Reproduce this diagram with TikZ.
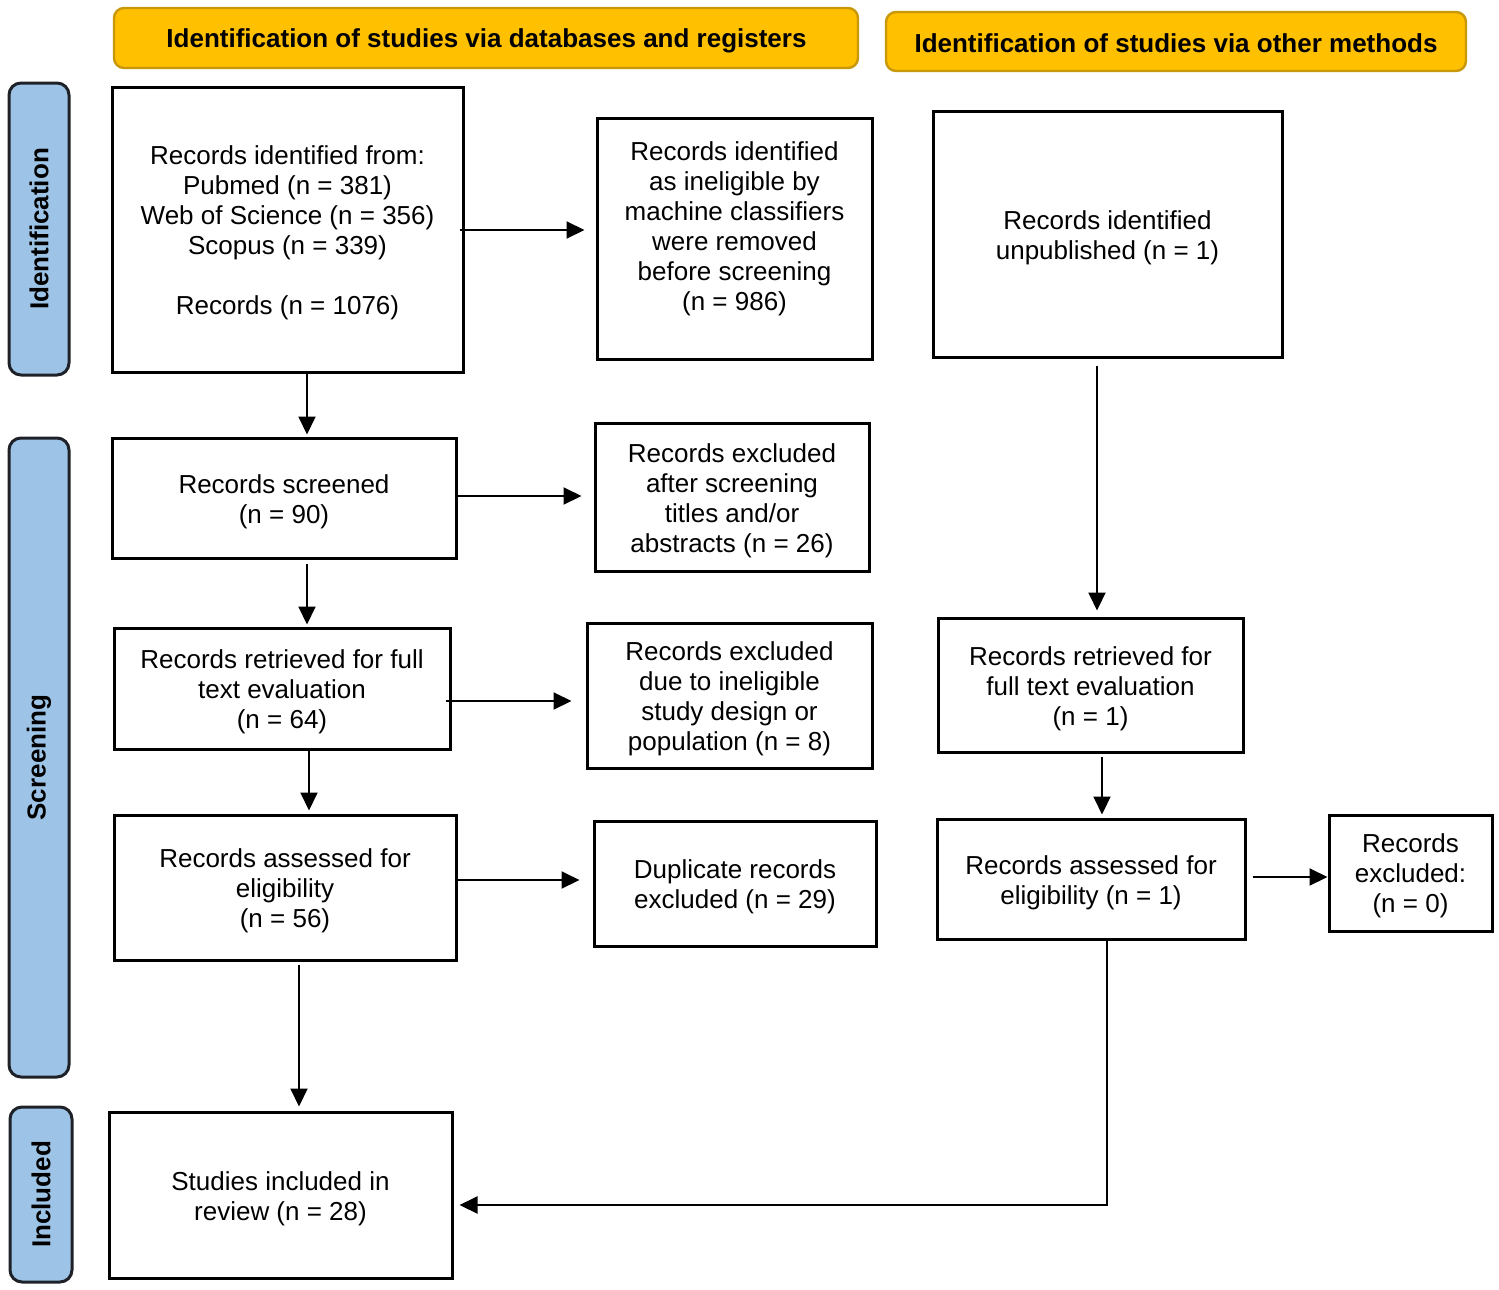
\documentclass[tikz,border=0pt]{standalone}
\usepackage{fontspec}
\setmainfont{Liberation Sans}
\usetikzlibrary{arrows.meta,calc}
\definecolor{hdrfill}{RGB}{255,192,0}
\definecolor{hdrdraw}{RGB}{200,152,10}
\definecolor{sidefill}{RGB}{157,195,230}
\definecolor{sidedraw}{RGB}{30,34,40}
\begin{document}
\begin{tikzpicture}[x=0.5pt,y=-0.5pt,
  sz/.style 2 args={minimum width=#1*0.5pt, minimum height=#2*0.5pt},
  box/.style={draw=black, line width=1.5pt, fill=white, inner sep=0pt},
  hdr/.style={draw=hdrdraw, fill=hdrfill, line width=1.2pt, rounded corners=5pt, inner sep=0pt, font=\bfseries\fontsize{13}{15}\selectfont},
  side/.style={draw=sidedraw, fill=sidefill, line width=1.5pt, rounded corners=6pt, inner sep=0pt},
  sidetext/.style={font=\bfseries\fontsize{13}{15}\selectfont, rotate=90, inner sep=0pt},
  txt/.style={inner sep=0pt, align=center, font=\fontsize{13}{15}\selectfont},
  arr/.style={-{Triangle[length=9pt,width=8.5pt]}, line width=1pt}]
\useasboundingbox (0,0) rectangle (1499,1290);
\fill[white] (0,0) rectangle (1499,1290);

% headers
\node[hdr, sz={744}{60}] (h1) at (486,38) {};
\node[hdr, draw=none, fill=none] (h1t) at (486.5,40.5) {Identification of studies via databases and registers};
\node[hdr, sz={580}{59}] (h2) at (1176,41.5) {};
\node[hdr, draw=none, fill=none] (h2t) at (1176,43) {Identification of studies via other methods};

% side bars
\node[side, sz={60}{292}] (s1) at (39,229) {};
\node[sidetext] (s1t) at (s1.center) {Identification};
\node[side, sz={60}{639}] (s2) at (39,757.5) {};
\node[sidetext] (s2t) at (s2.center) {Screening};
\node[side, sz={62}{175}] (s3) at (41,1194.5) {};
\node[sidetext] (s3t) at (s3.center) {Included};

% boxes
\node[box, sz={351}{285}] (A) at (287.5,229.5) {};
\node[txt] (At) at (287.5,233) {Records identified from:\\Pubmed (n = 381)\\Web of Science (n = 356)\\Scopus (n = 339)\\[15pt]Records (n = 1076)};
\node[box, sz={275}{241}] (B) at (734.5,238.5) {};
\node[txt] (Bt) at (734.5,228.5) {Records identified\\as ineligible by\\machine classifiers\\were removed\\before screening\\(n = 986)};
\node[box, sz={349}{246}] (C) at (1107.5,234) {};
\node[txt] (Ct) at (1107.5,237.5) {Records identified\\unpublished (n = 1)};
\node[box, sz={344}{120}] (D) at (284,498) {};
\node[txt] (Dt) at (284,501.5) {Records screened\\(n = 90)};
\node[box, sz={274}{148}] (E) at (732,497) {};
\node[txt] (Et) at (732,500.5) {Records excluded\\after screening\\titles and/or\\abstracts (n = 26)};
\node[box, sz={336}{121}] (F) at (282,688.5) {};
\node[txt] (Ft) at (282,692) {Records retrieved for full\\text evaluation\\(n = 64)};
\node[box, sz={285}{145}] (G) at (729.5,695.5) {};
\node[txt] (Gt) at (729.5,699) {Records excluded\\due to ineligible\\study design or\\population (n = 8)};
\node[box, sz={305}{134}] (H) at (1090.5,685) {};
\node[txt] (Ht) at (1090.5,688.5) {Records retrieved for\\full text evaluation\\(n = 1)};
\node[box, sz={342}{145}] (I) at (285,887.5) {};
\node[txt] (It) at (285,891) {Records assessed for\\eligibility\\(n = 56)};
\node[box, sz={282}{125}] (J) at (735,883.5) {};
\node[txt] (Jt) at (735,887) {Duplicate records\\excluded (n = 29)};
\node[box, sz={308}{120}] (K) at (1091,879) {};
\node[txt] (Kt) at (1091,882.5) {Records assessed for\\eligibility (n = 1)};
\node[box, sz={163}{116}] (L) at (1410.5,873) {};
\node[txt] (Lt) at (1410.5,876) {Records\\excluded:\\(n = 0)};
\node[box, sz={343}{166}] (M) at (280.5,1195) {};
\node[txt] (Mt) at (280.5,1198.5) {Studies included in\\review (n = 28)};

% horizontal arrows
\coordinate (ab) at ($(A.east)+(-5,0.5)$);
\draw[arr, shorten >=5.5pt] (ab) -- (ab -| B.west);
\coordinate (de) at ($(D.east)+(0,-2)$);
\draw[arr, shorten >=6pt] (de) -- (de -| E.west);
\coordinate (fg) at ($(F.east)+(-6,12.5)$);
\draw[arr, shorten >=7pt] (fg) -- (fg -| G.west);
\coordinate (ij) at ($(I.east)+(-2,-7.5)$);
\draw[arr, shorten >=6.5pt] (ij) -- (ij -| J.west);
\coordinate (kl) at ($(K.east)+(0,-2)$);
\draw[arr, shorten <=3pt] (kl) -- (kl -| L.west);

% vertical arrows
\coordinate (ad) at ($(A.south)+(19.5,0)$);
\draw[arr, shorten >=1pt] (ad) -- (ad |- D.north);
\coordinate (df) at ($(D.south)+(23,0)$);
\draw[arr, shorten <=2pt, shorten >=1pt] (df) -- (df |- F.north);
\coordinate (fi) at ($(F.south)+(27,0)$);
\draw[arr, shorten >=1.5pt] (fi) -- (fi |- I.north);
\coordinate (im) at ($(I.south)+(14,0)$);
\draw[arr, shorten <=1.5pt, shorten >=2pt] (im) -- (im |- M.north);
\coordinate (ch) at ($(C.south)+(-10.5,0)$);
\draw[arr, shorten <=3.5pt, shorten >=3pt] (ch) -- (ch |- H.north);
\coordinate (hk) at ($(H.south)+(11.5,0)$);
\draw[arr, shorten <=1.5pt, shorten >=1.5pt] (hk) -- (hk |- K.north);
\coordinate (km) at ($(K.south)+(16,0)$);
\coordinate (mk) at ($(M.east)+(0,10)$);
\draw[arr, shorten >=3pt] (km) -- (km |- mk) -- (mk);
\end{tikzpicture}
\end{document}
